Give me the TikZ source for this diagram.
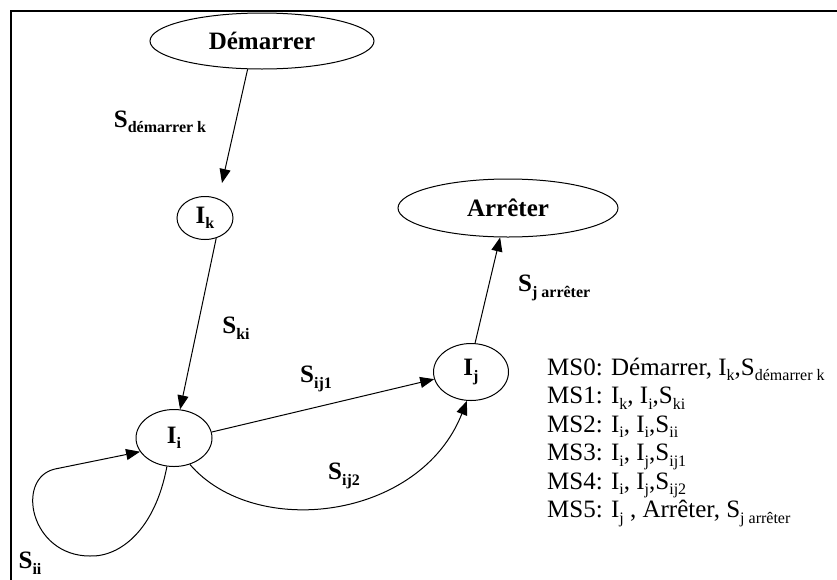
\documentclass[tikz,border=0pt]{standalone}
\usepackage{fontspec}
\setmainfont{Liberation Serif}
\usetikzlibrary{shapes.geometric,arrows.meta,calc}
\newcommand\lo[1]{\raisebox{-0.22em}{\fontsize{16}{16}\selectfont #1}}
\begin{document}
\begin{tikzpicture}[x=1pt,y=-1pt,
  st/.style={draw,ellipse,line width=1pt,inner sep=0pt,font=\fontsize{25}{28}\selectfont\bfseries},
  arr/.style={line width=1pt,-{Triangle[length=14pt,width=11pt]}},
  lbl/.style={font=\fontsize{25}{28}\selectfont\bfseries,inner sep=0pt},
  leg/.style={font=\fontsize{25}{28}\selectfont,inner sep=0pt,anchor=base west}]
\useasboundingbox (0,0) rectangle (837,579);
\draw[line width=2pt] (11,580) -- (11,11) -- (838,11);

\node[st,minimum width=224pt,minimum height=56pt] (dem) at (262,41) {Démarrer};
\node[st,minimum width=56pt,minimum height=43pt] (ik) at (205,218) {I\lo{k}};
\node[st,minimum width=220pt,minimum height=58pt] (arr) at (508,208) {Arrêter};
\node[st,minimum width=76pt,minimum height=57pt] (ii) at (174,438) {I\lo{i}};
\node[st,minimum width=75pt,minimum height=57pt] (ij) at (471,372) {I\lo{j}};

\draw[arr] (dem.243) -- ($(ik.center)+(17,-35)$);
\draw[arr] (ik.299) -- (ii.78);
\draw[arr] (ii.9) -- (ij.191);
\draw[arr] (ii.301) .. controls (255,540) and (420,520) .. (ij.262);
\draw[arr] (ij.82) -- (arr.255);
\draw[arr] (ii.256) .. controls (155,530) and (120,557) .. (90,556) .. controls (30,556) and (15,478) .. (55,469) -- (ii.202);

\node[lbl] (lsd) at (160,122) {S\lo{démarrer k}};
\node[lbl] (lski) at (236,328) {S\lo{ki}};
\node[lbl] (lsij1) at (316,379) {S\lo{ij1}};
\node[lbl] (lsij2) at (344,476) {S\lo{ij2}};
\node[lbl,anchor=west] (lsja) at (518,288) {S\lo{j arrêter}};
\node[lbl] (lsii) at (30,563) {S\lo{ii}};

\node[leg] (ms0) at (547,375) {MS0: Démarrer, I\lo{k},S\lo{démarrer k}};
\node[leg] (ms1) at (547,403.5) {MS1: I\lo{k}, I\lo{i},S\lo{ki}};
\node[leg] (ms2) at (547,432) {MS2: I\lo{i}, I\lo{i},S\lo{ii}};
\node[leg] (ms3) at (547,460.5) {MS3: I\lo{i}, I\lo{j},S\lo{ij1}};
\node[leg] (ms4) at (547,489) {MS4: I\lo{i}, I\lo{j},S\lo{ij2}};
\node[leg] (ms5) at (547,517.5) {MS5: I\lo{j} , Arrêter, S\lo{j arrêter}};
\end{tikzpicture}
\end{document}
